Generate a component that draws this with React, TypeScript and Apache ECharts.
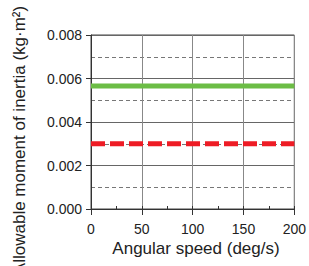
import React, { useEffect, useRef } from "react";
import * as echarts from "echarts";

const xRange = [0, 200];
const greenValues = [0.00565, 0.00565];
const redValues = [0.003, 0.003];
const yTitle = "Allowable moment of inertia (kg·m²)";
const xTitle = "Angular speed (deg/s)";

export default function App() {
  const ref = useRef<HTMLDivElement>(null);
  useEffect(() => {
    const chart = echarts.init(ref.current!, null, { renderer: "svg" });
    const font = "Liberation Sans, Arial, sans-serif";
    chart.setOption({
      animation: false,
      grid: { left: 91, top: 35, width: 209, height: 174, show: true, borderColor: "#444", borderWidth: 1 },
      xAxis: [
        {
          type: "value", min: 0, max: 200, interval: 50,
          axisLine: { lineStyle: { color: "#333" } },
          axisTick: { length: 6, lineStyle: { color: "#333" } },
          axisLabel: { color: "#222", fontSize: 14, fontFamily: font, margin: 13, showMaxLabel: true },
          splitLine: { show: true, lineStyle: { color: "#888", width: 1 } },
        },
        {
          type: "value", min: 0, max: 200, interval: 25, position: "bottom",
          axisLine: { show: false },
          axisTick: { show: true, inside: true, length: 3, lineStyle: { color: "#333" } },
          axisLabel: { show: false },
          splitLine: { show: false },
        },
      ],
      yAxis: {
        type: "value", min: 0, max: 0.008, interval: 0.002,
        axisLine: { show: true, lineStyle: { color: "#333" } },
        axisTick: { show: true, length: 5, lineStyle: { color: "#333" } },
        minorTick: { show: false, splitNumber: 2 },
        minorSplitLine: { show: true, lineStyle: { color: "#777", type: [4, 3], width: 1 } },
        axisLabel: { color: "#222", fontSize: 14, fontFamily: font, margin: 9, formatter: (v: number) => v.toFixed(3) },
        splitLine: { show: true, lineStyle: { color: "#666", width: 1 } },
      },
      graphic: [
        { type: "text", x: 19, y: 140, rotation: Math.PI / 2, style: { text: yTitle, fontSize: 17, fontFamily: font, fill: "#222", align: "center", verticalAlign: "middle" } },
        { type: "text", x: 196, y: 248, style: { text: xTitle, fontSize: 17, fontFamily: font, fill: "#222", align: "center", verticalAlign: "middle" } },
      ],
      series: [
        { type: "line", symbol: "none", data: xRange.map((x, i) => [x, greenValues[i]]), lineStyle: { color: "#6cbd45", width: 5 } },
        { type: "line", symbol: "none", data: xRange.map((x, i) => [x, redValues[i]]), lineStyle: { color: "#ee1c25", width: 5, type: [14, 5] } },
      ],
    });
    return () => chart.dispose();
  }, []);
  return <div ref={ref} style={{ position: "absolute", left: 0, top: 0, width: 309, height: 266 }} />;
}
